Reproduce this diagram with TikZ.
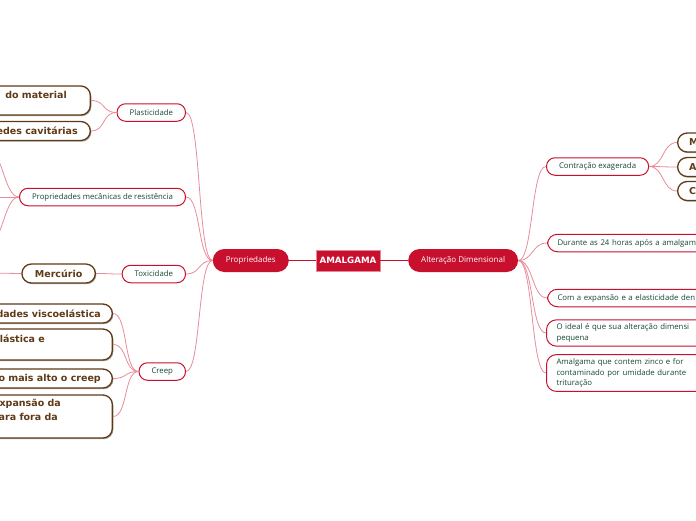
\documentclass[tikz,border=0pt]{standalone}
\usepackage{fontspec}
\setmainfont{Open Sans}
\newfontfamily\bfnt{DejaVu Sans}
\usetikzlibrary{shadows}
\definecolor{crim}{RGB}{200,16,46}
\definecolor{linkc}{RGB}{232,140,155}
\definecolor{grn}{RGB}{22,72,52}
\definecolor{brn}{RGB}{95,58,22}
\tikzset{
 redpill/.style={fill=crim, text=white, rounded corners=11.5pt, minimum height=23pt, inner xsep=13pt, inner ysep=0pt, font=\fontsize{8}{10}\selectfont},
 whitepill/.style={draw=crim, line width=1pt, fill=white, text=grn, rounded corners=8.5pt, minimum height=17.5pt, inner xsep=12.5pt, inner ysep=0pt, font=\fontsize{7.8}{10}\selectfont},
 wideleaf/.style={whitepill, rounded corners=10pt, text width=#1, align=left, inner xsep=10pt, inner ysep=4pt, font=\fontsize{7.8}{10.5}\selectfont},
 brownbox/.style={draw=brn, line width=1.3pt, fill=white, rounded corners=9.5pt, drop shadow={shadow xshift=1pt, shadow yshift=-1.2pt, fill=black, opacity=0.35}},
 browntext/.style={text=brn, inner sep=0pt, font=\bfnt\bfseries\fontsize{9.5}{13}\selectfont},
 link/.style={draw=linkc, line width=0.8pt},
}
\begin{document}
\begin{tikzpicture}[x=1pt,y=-1pt]
\useasboundingbox (0,0) rectangle (696,520);
\fill[white] (0,0) rectangle (696,520);

% centre
\node[fill=crim, draw=crim!50!white, line width=0.8pt, text=white, minimum width=64pt, minimum height=21pt, inner sep=0pt, font=\bfnt\bfseries\fontsize{8.7}{10}\selectfont] (root) at (348,260.5) {AMALGAMA};
\node[redpill, anchor=east] (prop) at (289,260.5) {Propriedades};
\node[redpill, anchor=west] (alt) at (408,260.5) {Alteração Dimensional};
\draw[crim, line width=0.9pt] (root.west) -- (prop.east);
\draw[crim, line width=0.9pt] (root.east) -- (alt.west);

% left branches
\node[whitepill, anchor=east] (plast) at (186,112.5) {Plasticidade};
\node[whitepill, anchor=east] (mec) at (186,197) {Propriedades mecânicas de resistência};
\node[whitepill, anchor=east] (tox) at (186,274) {Toxicidade};
\node[whitepill, anchor=east] (creep) at (186,371.5) {Creep};
\foreach \n in {plast,mec,tox,creep}
  \draw[link] (\n.east) .. controls +(15,0) and +(-15,0) .. (prop.west);

% Plasticidade children
\node[brownbox, anchor=east, minimum width=150pt, minimum height=29pt] (pm1) at (91,100.5) {};
\node[browntext, anchor=east] (pm1t) at (67,95) {do material};
\node[brownbox, anchor=east, minimum width=150pt, minimum height=19pt] (pm2) at (91,131) {};
\node[browntext, anchor=east] (pm2t) at (78,131) {edes cavitárias};
\foreach \n in {pm1,pm2}
  \draw[link] (\n.east) .. controls +(15,0) and +(-15,0) .. (plast.west);

% mechanical properties children (off page)
\coordinate (mc1) at (-12,150);
\coordinate (mc2) at (-12,197);
\coordinate (mc3) at (-12,244);
\foreach \n in {mc1,mc2,mc3}
  \draw[link] (\n) .. controls +(15,0) and +(-15,0) .. (mec.west);

% Toxicidade
\node[brownbox, text=brn, font=\bfnt\bfseries\fontsize{9.5}{13}\selectfont, minimum height=19pt, inner xsep=13pt, inner ysep=0pt, anchor=east] (merc) at (96,273.5) {Mercúrio};
\coordinate (mchild) at (-15,273);
\draw[link] (mchild) -- (merc.west);
\draw[link] (merc.east) .. controls +(15,0) and +(-15,0) .. (tox.west);

% Creep children
\node[brownbox, anchor=east, minimum width=150pt, minimum height=19pt] (c1) at (113,313.5) {};
\node[browntext, anchor=east] (c1t) at (101,313.5) {dades viscoelástica};
\node[brownbox, anchor=east, minimum width=150pt, minimum height=31pt] (c2) at (113,344.5) {};
\node[browntext, anchor=east] (c2t) at (45,339) {lástica e};
\node[brownbox, anchor=east, minimum width=150pt, minimum height=19pt] (c3) at (113,378.5) {};
\node[browntext, anchor=east] (c3t) at (101,378.5) {o mais alto o creep};
\node[brownbox, anchor=east, minimum width=150pt, minimum height=43pt] (c4) at (113,416.5) {};
\node[browntext, anchor=east] (c4t) at (61,404) {xpansão da};
\node[browntext, anchor=east] (c4u) at (58,417) {ara fora da};
\foreach \n in {c1,c2,c3,c4}
  \draw[link] (\n.east) .. controls +(15,0) and +(-15,0) .. (creep.west);

% right branches
\node[whitepill, anchor=west] (contr) at (546,166.5) {Contração exagerada};
\node[wideleaf=160pt, anchor=west] (dur) at (547,243) {Durante as 24 horas após a amalgam};
\node[wideleaf=160pt, anchor=west] (com) at (547,298) {Com a expansão e a elasticidade den};
\node[wideleaf=160pt, anchor=west] (ideal) at (546,333) {O ideal é que sua alteração dimensi\\pequena};
\node[wideleaf=160pt, anchor=west] (amal) at (546,373) {Amalgama que contem zinco e for\\contaminado por umidade durante\\trituração};
\foreach \n in {contr,dur,com,ideal,amal}
  \draw[link] (alt.east) .. controls +(15,0) and +(-15,0) .. (\n.west);

% Contração children
\node[brownbox, anchor=west, minimum width=60pt, minimum height=19pt] (r1) at (677,142.5) {};
\node[browntext, anchor=west] (r1t) at (689,142.5) {M};
\node[brownbox, anchor=west, minimum width=60pt, minimum height=19pt] (r2) at (677,167) {};
\node[browntext, anchor=west] (r2t) at (689,167) {A};
\node[brownbox, anchor=west, minimum width=60pt, minimum height=19pt] (r3) at (677,191) {};
\node[browntext, anchor=west] (r3t) at (689,191) {C};
\foreach \n in {r1,r2,r3}
  \draw[link] (contr.east) .. controls +(15,0) and +(-15,0) .. (\n.west);
\end{tikzpicture}
\end{document}
